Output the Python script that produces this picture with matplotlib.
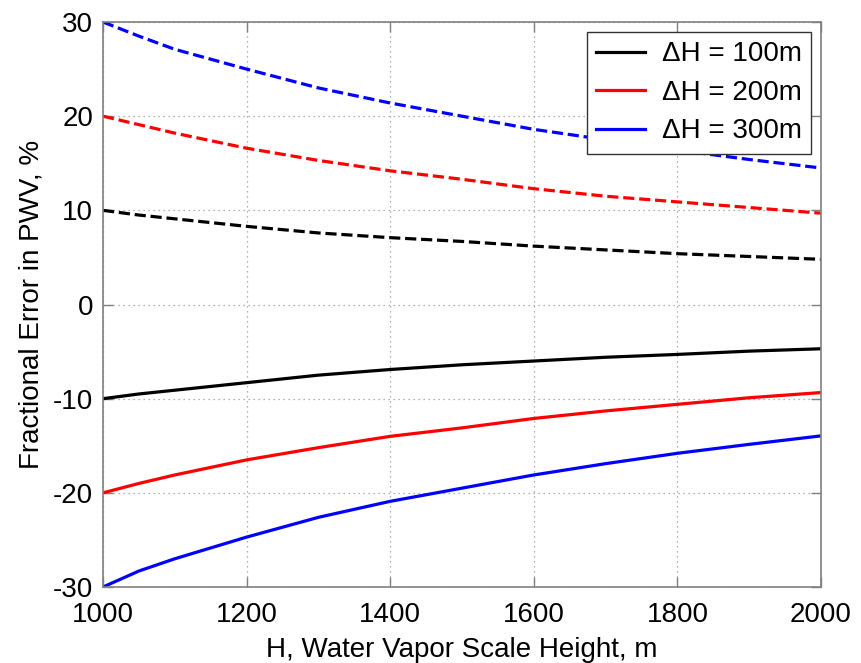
import matplotlib.pyplot as plt
import numpy as np

plt.rcParams['font.family'] = ['Liberation Sans', 'DejaVu Sans']
plt.rcParams['axes.unicode_minus'] = False

# scale height, m
H = [1000, 1050, 1100, 1200, 1300, 1400, 1500, 1600, 1700, 1800, 1900, 2000]

# fractional PWV error (%) for each height step, upper (+) and lower (-) branch
err_100_up = [10, 9.5, 9.1, 8.3, 7.6, 7.1, 6.7, 6.2, 5.8, 5.4, 5.1, 4.8]
err_200_up = [20, 19.1, 18.2, 16.6, 15.3, 14.2, 13.3, 12.3, 11.5, 10.9, 10.3, 9.7]
err_300_up = [30, 28.5, 27.1, 25.0, 23.0, 21.4, 20.0, 18.6, 17.5, 16.4, 15.4, 14.5]

err_100_dn = [-10, -9.5, -9.1, -8.3, -7.5, -6.9, -6.4, -6.0, -5.6, -5.3, -4.95, -4.7]
err_200_dn = [-20, -19.0, -18.1, -16.5, -15.2, -14.0, -13.1, -12.1, -11.3, -10.6, -9.9, -9.35]
err_300_dn = [-30, -28.3, -27.0, -24.7, -22.6, -20.9, -19.5, -18.1, -16.9, -15.8, -14.85, -13.95]

labels = ['ΔH = 100m', 'ΔH = 200m', 'ΔH = 300m']
colors = ['black', 'red', 'blue']

fig = plt.figure(figsize=(8.62, 6.63), dpi=100)
ax = fig.add_axes([0.1195, 0.1146, 0.8329, 0.8522])

for up, dn, c, lab in zip([err_100_up, err_200_up, err_300_up],
                          [err_100_dn, err_200_dn, err_300_dn],
                          colors, labels):
    ax.plot(H, dn, color=c, lw=2.3, label=lab)
    ax.plot(H, up, color=c, lw=2.3, dashes=(3.5, 1.5))

ax.set_xlim(1000, 2000)
ax.set_ylim(-30, 30)
ax.set_xticks(np.arange(1000, 2001, 200))
ax.set_yticks(np.arange(-30, 31, 10))
ax.grid(True, color='#999999', linestyle=(0, (1, 3)), lw=0.9)

for s in ax.spines.values():
    s.set_color('#808080')
    s.set_linewidth(1.2)
ax.tick_params(direction='in', length=7, width=1, color='#808080',
               top=True, right=True, labelsize=20)
ax.tick_params(axis='x', pad=11)
ax.tick_params(axis='y', pad=7)

ax.set_xlabel('H, Water Vapor Scale Height, m', fontsize=20, labelpad=6)
ax.set_ylabel('Fractional Error in PWV, %', fontsize=20, labelpad=6)

leg = ax.legend(loc='upper right', fontsize=20, handlelength=1.75,
                borderaxespad=0.35, borderpad=0.35, fancybox=False,
                framealpha=1, labelspacing=0.45, handletextpad=0.6)
leg.get_frame().set_edgecolor('#333333')
leg.get_frame().set_linewidth(1.0)

fig.savefig('out.png', dpi=100)
